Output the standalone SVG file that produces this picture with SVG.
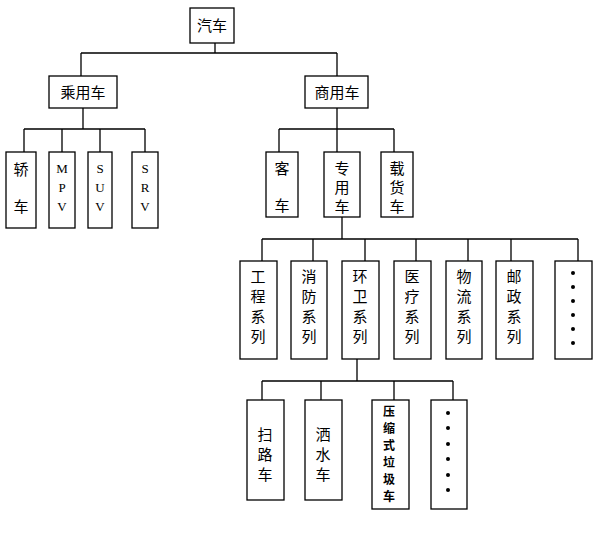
<svg xmlns="http://www.w3.org/2000/svg" width="600" height="537" viewBox="0 0 600 537">
<style>
rect{fill:#fff;stroke:#000;stroke-width:1.3}
.c{stroke:#000;stroke-width:1.3;fill:none}
text{font-family:"Noto Sans CJK SC","Liberation Serif",sans-serif;font-size:15px;text-anchor:middle;fill:#000}
.l{font-family:"Liberation Serif",serif;font-size:13px}
.b{font-weight:bold;font-size:12px}
</style>
<g id="connectors" class="c">
<path d="M215 43V53M81 53H337M81 53V76M337 53V76"/>
<path d="M83 108V129M24 129H145M24 129V152M62 129V152M100 129V152M145 129V152"/>
<path d="M337 108V129M279 129H394M279 129V152M337 129V152M394 129V152"/>
<path d="M342 217V239M262 239H578M262 239V261M313 239V261M365 239V261M416 239V261M468 239V261M511 239V261M578 239V261"/>
<path d="M357 359V381M262 381H453M262 381V400M321 381V400M394 381V400M453 381V400"/>
</g>
<g id="n0"><rect x="190" y="8" width="44" height="35"/><text x="212" y="31">汽车</text></g>
<g id="n1"><rect x="49" y="76" width="68" height="32"/><text x="83" y="98">乘用车</text></g>
<g id="n2"><rect x="305" y="76" width="63" height="32"/><text x="337" y="98">商用车</text></g>
<g id="n3"><rect x="6" y="152" width="30" height="76"/><text x="21" y="175">轿</text><text x="21" y="212">车</text></g>
<g id="n4"><rect x="49" y="152" width="26" height="76"/><text class="l" x="62" y="173">M</text><text class="l" x="62" y="192">P</text><text class="l" x="62" y="211">V</text></g>
<g id="n5"><rect x="88" y="152" width="24" height="76"/><text class="l" x="100" y="173">S</text><text class="l" x="100" y="192">U</text><text class="l" x="100" y="211">V</text></g>
<g id="n6"><rect x="132" y="152" width="26" height="76"/><text class="l" x="145" y="173">S</text><text class="l" x="145" y="192">R</text><text class="l" x="145" y="211">V</text></g>
<g id="n7"><rect x="266" y="152" width="32" height="65"/><text x="282" y="174">客</text><text x="282" y="211">车</text></g>
<g id="n8"><rect x="324" y="152" width="36" height="65"/><text x="342" y="174">专</text><text x="342" y="193">用</text><text x="342" y="212">车</text></g>
<g id="n9"><rect x="381" y="152" width="32" height="65"/><text x="397" y="174">载</text><text x="397" y="193">货</text><text x="397" y="212">车</text></g>
<g id="n10"><rect x="240" y="261" width="37" height="98"/><text x="258" y="282">工</text><text x="258" y="302">程</text><text x="258" y="322">系</text><text x="258" y="342">列</text></g>
<g id="n11"><rect x="291" y="261" width="36" height="98"/><text x="309" y="282">消</text><text x="309" y="302">防</text><text x="309" y="322">系</text><text x="309" y="342">列</text></g>
<g id="n12"><rect x="342" y="261" width="37" height="98"/><text x="360" y="282">环</text><text x="360" y="302">卫</text><text x="360" y="322">系</text><text x="360" y="342">列</text></g>
<g id="n13"><rect x="394" y="261" width="37" height="98"/><text x="412" y="282">医</text><text x="412" y="302">疗</text><text x="412" y="322">系</text><text x="412" y="342">列</text></g>
<g id="n14"><rect x="446" y="261" width="36" height="98"/><text x="464" y="282">物</text><text x="464" y="302">流</text><text x="464" y="322">系</text><text x="464" y="342">列</text></g>
<g id="n15"><rect x="496" y="261" width="37" height="98"/><text x="514" y="282">邮</text><text x="514" y="302">政</text><text x="514" y="322">系</text><text x="514" y="342">列</text></g>
<g id="n16"><rect x="555" y="261" width="37" height="98"/><g fill="#000"><circle cx="573" cy="273" r="2"/><circle cx="573" cy="287" r="2"/><circle cx="573" cy="301" r="2"/><circle cx="573" cy="315" r="2"/><circle cx="573" cy="329" r="2"/><circle cx="573" cy="343" r="2"/></g></g>
<g id="n17"><rect x="247" y="400" width="37" height="100"/><text x="265" y="440">扫</text><text x="265" y="460">路</text><text x="265" y="480">车</text></g>
<g id="n18"><rect x="305" y="400" width="37" height="100"/><text x="323" y="440">洒</text><text x="323" y="460">水</text><text x="323" y="480">车</text></g>
<g id="n19"><rect x="372" y="400" width="37" height="109"/><text class="b" x="389" y="416">压</text><text class="b" x="389" y="433">缩</text><text class="b" x="389" y="450">式</text><text class="b" x="389" y="467">垃</text><text class="b" x="389" y="484">圾</text><text class="b" x="389" y="501">车</text></g>
<g id="n20"><rect x="431" y="400" width="36" height="109"/><g fill="#000"><circle cx="448" cy="413" r="2"/><circle cx="448" cy="428" r="2"/><circle cx="448" cy="444" r="2"/><circle cx="448" cy="459" r="2"/><circle cx="448" cy="475" r="2"/><circle cx="448" cy="490" r="2"/></g></g>
</svg>
